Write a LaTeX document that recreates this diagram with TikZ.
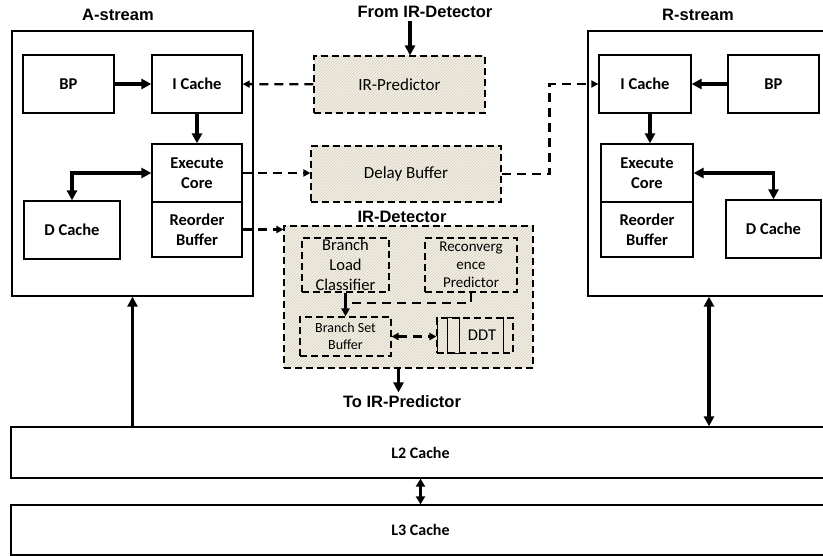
\documentclass[tikz,border=0pt]{standalone}
\usepackage{fontspec}
\setmainfont{Carlito}
\newfontfamily\headfont{Liberation Sans}
\usetikzlibrary{arrows.meta, patterns}
\definecolor{hatchbg}{HTML}{F3F0E8}
\definecolor{hatchln}{HTML}{D6CFBA}

\begin{document}
\begin{tikzpicture}[
    x=1pt, y=-1pt,
    box/.style={draw, line width=1.3pt, inner sep=0pt, minimum height=58pt, align=center, font=\fontsize{16.5}{20}\selectfont\bfseries},
    stream/.style={draw, line width=1.3pt, inner sep=0pt, font=\fontsize{16}{20}\selectfont\bfseries},
    hatch/.style={draw, dash pattern=on 7pt off 4pt, line width=1.1pt, preaction={fill=hatchbg}, pattern=north east lines, pattern color=hatchln, inner sep=0pt, font=\fontsize{17}{20}\selectfont},
    inbox/.style={draw, dash pattern=on 7pt off 4pt, line width=1.1pt, inner sep=0pt, align=center, font=\fontsize{16.5}{20}\selectfont},
    head/.style={font=\fontsize{16.5}{20}\selectfont\headfont\bfseries},
    arr/.style={-{Triangle[length=10pt,width=10pt]}, line width=3.5pt},
    darr/.style={{Triangle[length=10pt,width=10pt]}-{Triangle[length=10pt,width=10pt]}, line width=3.5pt},
    link/.style={-{Triangle[length=7pt,width=7pt]}, line width=2.3pt, dash pattern=on 9pt off 6pt}
]
    \useasboundingbox (0,0) rectangle (823,556);

    % A-stream core
    \node[stream, minimum width=241pt, minimum height=265pt] (astream) at (132.5,163.5) {};
    \node[head] at (118,15) {A-stream};
    \node[box, minimum width=91pt] (abp)   at (68.5,84)  {BP};
    \node[box, minimum width=90pt] (aic)   at (197,84)   {I Cache};
    \node[box, minimum width=90pt] (aexec) at (197,173)  {Execute\\Core};
    \node[box, minimum width=90pt, minimum height=55pt] (arob) at (197,229.5) {Reorder\\Buffer};
    \node[box, minimum width=96pt] (adc)   at (72,230)   {D Cache};

    % R-stream core, runs past the right edge
    \node[stream, minimum width=242pt, minimum height=265pt] (rstream) at (709,163.5) {};
    \node[head] at (698,15) {R-stream};
    \node[box, minimum width=92pt] (ric)   at (645,84)    {I Cache};
    \node[box, minimum width=91pt] (rbp)   at (773.5,84)  {BP};
    \node[box, minimum width=92pt] (rexec) at (647,173)   {Execute\\Core};
    \node[box, minimum width=92pt, minimum height=55pt] (rrob) at (647,229.5) {Reorder\\Buffer};
    \node[box, minimum width=95pt] (rdc)   at (773.5,229) {D Cache};

    % hatched units in the middle
    \node[head] (from) at (425,12) {From IR-Detector};
    \node[hatch, minimum width=171pt, minimum height=57pt] (irpred) at (399.5,84.5) {IR-Predictor};
    \node[hatch, minimum width=190pt, minimum height=56pt] (delay)  at (406,174)   {Delay Buffer};
    \node[hatch, minimum width=249pt, minimum height=142pt] (irdet) at (408.5,297) {};
    \node[head] at (402,217) {IR-Detector};
    \node[inbox, minimum width=87pt, minimum height=54pt] (blc) at (345.5,265) {Branch\\Load\\Classifier};
    \node[inbox, minimum width=92pt, minimum height=54pt, font=\fontsize{15}{18}\selectfont] (rcp) at (471,265) {Reconverg\\ence\\Predictor};
    \node[inbox, minimum width=91pt, minimum height=39pt, font=\fontsize{14}{17}\selectfont] (bsb) at (345.5,336.5) {Branch Set\\Buffer};
    \node[inbox, minimum width=76pt, minimum height=35pt,
          label={[xshift=7pt, font=\fontsize{16.5}{20}\selectfont]center:DDT}] (ddt) at (475,335.5) {};
    \node[head] (to) at (402,402) {To IR-Predictor};
    \coordinate (join) at (345.5,303);

    % shared caches
    \node[stream, minimum width=819pt, minimum height=51pt] (l2) at (420.5,452.5) {L2 Cache};
    \node[stream, minimum width=819pt, minimum height=50pt] (l3) at (420.5,530)   {L3 Cache};

    % DDT slots
    \draw[line width=1.1pt] ([xshift=1pt]ddt.north west) -- ([xshift=1pt]ddt.south west)
        ([xshift=11pt]ddt.north west) rectangle ([xshift=23pt]ddt.south west)
        ([xshift=-10pt]ddt.north east) -- ([xshift=-10pt]ddt.south east);

    % inside the streams
    \draw[arr] (abp) -- (aic);
    \draw[arr] (aic) -- (aexec);
    \draw[darr] (aexec.west) -| (adc.north);
    \draw[arr] (rbp) -- (ric);
    \draw[arr] ([xshift=5pt]ric.south) -- ([xshift=5pt]ric.south |- rexec.north);
    \draw[darr] (rexec.east) -| (rdc.north);

    % dashed links between the streams
    \draw[link] (irpred) -- (aic);
    \draw[link] (aexec.east) -- (aexec.east -| delay.west);
    \draw[link] (delay.east) -- ++(48,0) |- (ric.west);
    \draw[link] (arob.east) -- (arob.east -| irdet.west);
    \draw[arr] ([xshift=-15pt]from.south) -- ([xshift=-15pt]from.south |- irpred.north);
    \draw[arr] ([xshift=-10pt]irdet.south) -- ([xshift=-10pt]irdet.south |- to.north);

    % inside the IR-Detector
    \draw[-{Triangle[length=8pt,width=8pt]}, line width=2.5pt] (blc.south) -- (bsb.north);
    \draw[link, -] (rcp.south) |- (join);
    \draw[link, {Triangle[length=7pt,width=7pt]}-{Triangle[length=7pt,width=7pt]}] (bsb.east) -- (bsb.east -| ddt.west);

    % to the shared caches
    \draw[arr] (astream.south |- l2.north) -- (astream.south);
    \draw[darr] (rstream.south) -- (rstream.south |- l2.north);
    \draw[{Triangle[length=8pt,width=9pt]}-{Triangle[length=8pt,width=9pt]}, line width=3pt] (l2.south) -- (l3.north);
\end{tikzpicture}
\end{document}
